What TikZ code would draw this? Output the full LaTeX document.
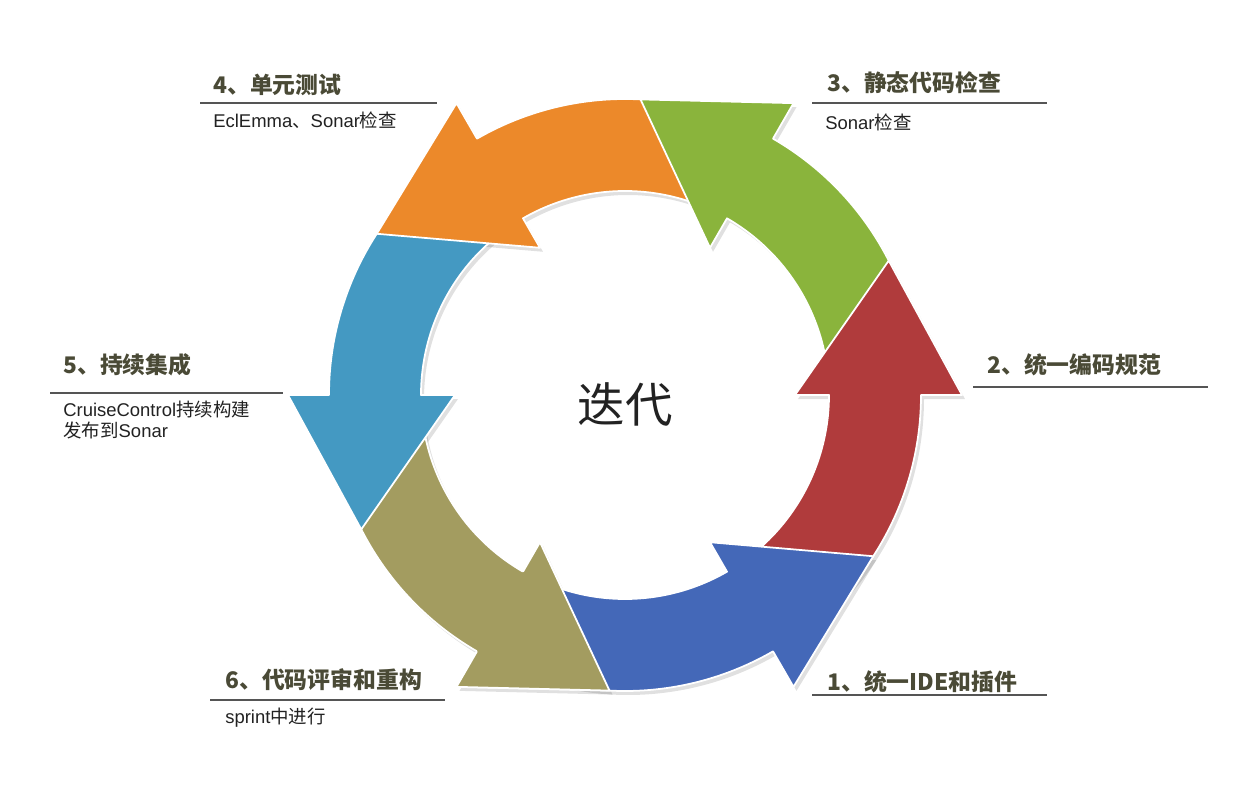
\documentclass[tikz,border=0pt]{standalone}
\usepackage{fontspec}
\setmainfont{Liberation Sans}
\newfontfamily\cjk{Noto Sans CJK SC}

\definecolor{ide}{HTML}{4468B8}
\definecolor{norm}{HTML}{B03B3C}
\definecolor{static}{HTML}{8AB43C}
\definecolor{unit}{HTML}{EC892A}
\definecolor{integ}{HTML}{4499C2}
\definecolor{review}{HTML}{A39C60}
\definecolor{titlegray}{HTML}{4A4A36}
\definecolor{subgray}{HTML}{222222}
\definecolor{rulegray}{HTML}{555555}

% one curved arrow of the ring: #1 options, #2 tail angle, #3 angle of the head base
\newcommand{\cycarrow}[3]{%
  \fill[#1] (#2:204) arc[start angle=#2, end angle=#3, radius=204] -- (#3:170) -- ({#3+27}:296)
    -- (#3:337) -- (#3:296) arc[start angle=#3, end angle=#2, radius=296] -- cycle;}

\begin{document}
\begin{tikzpicture}[x=0.02cm,y=0.02cm,
    seg/.style={draw=white,line width=1pt,line join=round},
    shadowfill/.style={fill=black,opacity=.12},
    title/.style={anchor=west,inner sep=0pt,text=titlegray,font=\cjk\bfseries\fontsize{13}{15}\selectfont},
    subtext/.style={anchor=west,inner sep=0pt,text=subgray,font=\fontsize{10.5}{12}\selectfont},
    rule/.style={draw=rulegray,line width=.8pt}]
  \fill[white] (0,0) rectangle (1251,799);
  \useasboundingbox (0,0) rectangle (1251,799);

  \begin{scope}[shift={(628,400)}]
    \cycarrow{shadowfill}{182}{240}
    \cycarrow{shadowfill}{122}{180}
    \cycarrow{shadowfill}{62}{120}
    \cycarrow{shadowfill}{2}{60}
    \cycarrow{shadowfill}{302}{360}
    \cycarrow{shadowfill}{242}{300}
  \end{scope}

  \begin{scope}[shift={(625,404)}]
    \cycarrow{seg,fill=review}{182}{240}
    \cycarrow{seg,fill=integ}{122}{180}
    \cycarrow{seg,fill=unit}{62}{120}
    \cycarrow{seg,fill=static}{2}{60}
    \cycarrow{seg,fill=norm}{302}{360}
    \cycarrow{seg,fill=ide}{242}{300}
    % head of the last arrow again, over the tail of the first
    \fill[review] (240:170) -- (267:296) -- (240:337) -- cycle;
    \draw[seg] (240:204) -- (240:170) -- (267:296) -- (240:337) -- (240:296);
  \end{scope}

  \node[inner sep=0pt,text=subgray,font=\cjk\fontsize{27}{30}\selectfont] (c) at (625,394) {迭代};

  % 1
  \node[title] (t1) at (827,117) {1、统一IDE和插件};
  \coordinate (r1a) at (812,104);
  \coordinate (r1b) at (1047,104);
  \draw[rule] (r1a) -- (r1b);

  % 2
  \node[title] (t2) at (987,434) {2、统一编码规范};
  \coordinate (r2a) at (973,412);
  \coordinate (r2b) at (1208,412);
  \draw[rule] (r2a) -- (r2b);

  % 3
  \node[title] (t3) at (827,716) {3、静态代码检查};
  \coordinate (r3a) at (812,696);
  \coordinate (r3b) at (1047,696);
  \draw[rule] (r3a) -- (r3b);
  \node[subtext] (s3) at (825,677) {Sonar{\cjk 检查}};

  % 4
  \node[title] (t4) at (213,714) {4、单元测试};
  \coordinate (r4a) at (200,696);
  \coordinate (r4b) at (437,696);
  \draw[rule] (r4a) -- (r4b);
  \node[subtext] (s4) at (213,679) {EclEmma{\cjk 、}Sonar{\cjk 检查}};

  % 5
  \node[title] (t5) at (63,434) {5、持续集成};
  \coordinate (r5a) at (50,406);
  \coordinate (r5b) at (283,406);
  \draw[rule] (r5a) -- (r5b);
  \node[subtext] (s5) at (63,389) {CruiseControl{\cjk 持续构建}};
  \node[subtext] (s5b) at (63,369) {{\cjk 发布到}Sonar};

  % 6
  \node[title] (t6) at (225,119) {6、代码评审和重构};
  \coordinate (r6a) at (210,99);
  \coordinate (r6b) at (445,99);
  \draw[rule] (r6a) -- (r6b);
  \node[subtext] (s6) at (225,81) {sprint{\cjk 中进行}};
\end{tikzpicture}
\end{document}
